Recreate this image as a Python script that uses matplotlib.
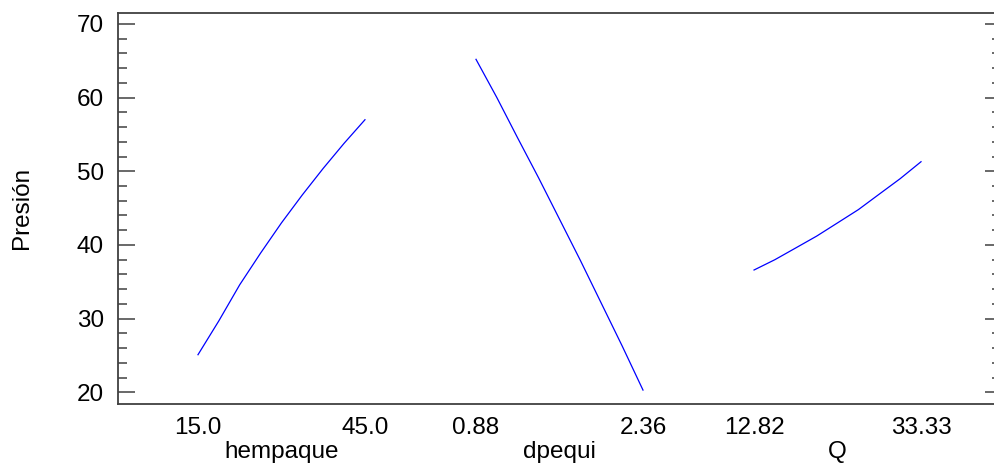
import matplotlib
matplotlib.use("Agg")
import matplotlib.pyplot as plt
from matplotlib.ticker import MultipleLocator

# factor names, low/high levels and predicted Presión along each factor
factors = ['hempaque', 'dpequi', 'Q']
tick_lo = ['15.0', '0.88', '12.82']
tick_hi = ['45.0', '2.36', '33.33']

hempaque_x = [15.0, 18.75, 22.5, 26.25, 30.0, 33.75, 37.5, 41.25, 45.0]
hempaque_y = [25.1, 29.7, 34.6, 38.9, 43.0, 46.8, 50.4, 53.8, 57.0]

dpequi_x = [0.88, 1.065, 1.25, 1.435, 1.62, 1.805, 1.99, 2.175, 2.36]
dpequi_y = [65.2, 60.0, 54.5, 49.1, 43.5, 37.9, 32.1, 26.3, 20.3]

q_x = [12.82, 15.38, 17.95, 20.51, 23.08, 25.64, 28.20, 30.77, 33.33]
q_y = [36.6, 38.0, 39.6, 41.2, 43.0, 44.8, 46.9, 49.0, 51.3]

curves = [(hempaque_x, hempaque_y), (dpequi_x, dpequi_y), (q_x, q_y)]

plt.rcParams['font.family'] = ['Liberation Sans', 'DejaVu Sans']
plt.rcParams['font.size'] = 17.5
plt.rcParams['savefig.bbox'] = 'standard'

fig = plt.figure(figsize=(9.95, 4.63), dpi=100)
ax = fig.add_axes((118 / 995, 59 / 463, 877 / 995, 391.3 / 463))

step = 1.665  # spacing between factor panels (panel width = 1)
ticks = []
ticklabels = []
for i, (xs, ys) in enumerate(curves):
    lo, hi = xs[0], xs[-1]
    off = i * step
    px = [off + (x - lo) / (hi - lo) for x in xs]
    ax.plot(px, ys, color='#0000ff', lw=0.9)
    ticks += [off, off + 1]
    ticklabels += [tick_lo[i], tick_hi[i]]
    ax.text(off + 0.5, -0.1227, factors[i], transform=ax.get_xaxis_transform(),
            ha='center', va='center', fontsize=17.5)

ax.set_xlim(-0.479, 4.773)
ax.set_ylim(18.41, 71.53)
ax.set_xticks(ticks)
ax.set_xticklabels(ticklabels)
ax.tick_params(axis='x', length=0, pad=9)

ax.yaxis.set_major_locator(MultipleLocator(10))
ax.yaxis.set_minor_locator(MultipleLocator(2))
ax.tick_params(axis='y', which='major', direction='in', length=12.5, width=1.1,
               color='#404040', pad=10)
ax.tick_params(axis='y', which='minor', direction='in', length=6.5, width=1.1,
               color='#404040')

for s in ax.spines.values():
    s.set_color('#404040')
    s.set_linewidth(1.3)
ax.spines['right'].set_visible(False)  # right frame is cut off by the image edge

# right-hand ticks, only partly visible at the image edge
ax_r = ax.secondary_yaxis('right')
ax_r.yaxis.set_major_locator(MultipleLocator(10))
ax_r.yaxis.set_minor_locator(MultipleLocator(2))
ax_r.tick_params(which='major', direction='in', length=7.5, width=1.1,
                 color='#404040', labelright=False)
ax_r.tick_params(which='minor', direction='in', length=2, width=1.1,
                 color='#404040')
ax_r.spines['right'].set_visible(False)

ax.set_ylabel('Presión', fontsize=17.5)
ax.yaxis.set_label_coords(-(118 - 33) / 877, 0.5)

fig.savefig('out.png', dpi=100)
